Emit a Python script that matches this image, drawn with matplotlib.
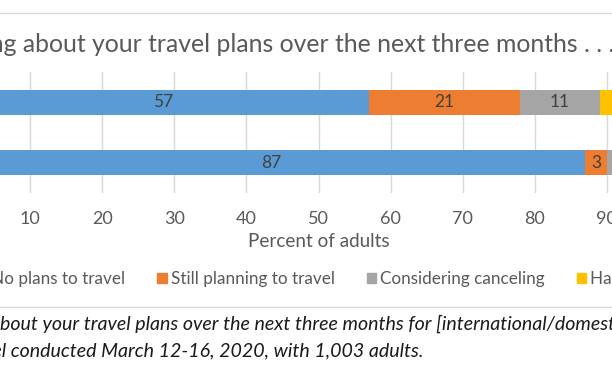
import matplotlib
matplotlib.use("Agg")
import matplotlib.pyplot as plt
from matplotlib.patches import Patch

plt.rcParams['font.family'] = ['Lato', 'DejaVu Sans']

# data (top bar first)
categories = ["Domestic travel", "International travel"]
series = ["No plans to travel", "Still planning to travel",
          "Considering canceling", "Have canceled"]
values = {
    "No plans to travel": [57, 87],
    "Still planning to travel": [21, 3],
    "Considering canceling": [11, 3],
    "Have canceled": [11, 7],
}
colors = ["#5B9BD5", "#ED7D31", "#A5A5A5", "#FFC000"]
xticks = [0, 10, 20, 30, 40, 50, 60, 70, 80, 90, 100]

W, H = 612, 374
fig = plt.figure(figsize=(W / 100, H / 100), dpi=100)
fig.patch.set_facecolor("white")


def px(x0, y0, x1, y1):
    # pixel box -> figure fraction [left, bottom, width, height]
    return [x0 / W, 1 - y1 / H, (x1 - x0) / W, (y1 - y0) / H]


ax = fig.add_axes(px(-42, 72, 679, 193))
ypos = list(range(len(categories)))
left = [0] * len(categories)
for name, col in zip(series, colors):
    vals = values[name]
    bars = ax.barh(ypos, vals, left=left, height=0.41, color=col, label=name, zorder=2)
    labels = [str(v) if v >= 3 else "" for v in vals]
    ax.bar_label(bars, labels=labels, label_type="center", color="#404040", fontsize=12.5)
    left = [a + b for a, b in zip(left, vals)]

ax.set_xlim(0, 100)
ax.set_ylim(len(categories) - 0.5, -0.5)
ax.set_yticks(ypos, categories)
ax.set_xticks(xticks)
ax.grid(axis="x", color="#D9D9D9", linewidth=1, zorder=0)
for s in ax.spines.values():
    s.set_visible(False)
ax.tick_params(axis="both", length=0, colors="#595959", labelsize=13)
ax.tick_params(axis="x", pad=13)
ax.set_xlabel("Percent of adults", fontsize=13.6, color="#595959", labelpad=4)

# separator lines
fig.add_artist(plt.Line2D([0, 1], [1 - 12.5 / H] * 2, color="#D9D9D9", lw=1))
fig.add_artist(plt.Line2D([0, 1], [1 - 307 / H] * 2, color="#D9D9D9", lw=1))

fig.canvas.draw()
rend = fig.canvas.get_renderer()


def place(prefix, text, x_px, y_px, **kw):
    # put text so that the part after prefix starts at x_px
    t = fig.text(0, 0, prefix, **kw)
    w = t.get_window_extent(rend).width
    t.remove()
    fig.text((x_px - w) / W, 1 - y_px / H, prefix + text, va="center", ha="left", **kw)


place("Thinking ", "about your travel plans over the next three months . . .", 23, 45,
      fontsize=17.8, color="#595959")

leg = fig.legend(handles=[Patch(color=c, label=s) for s, c in zip(series, colors)],
                 loc="center left", bbox_to_anchor=(-31 / W, 1 - 279 / H), ncol=4,
                 frameon=False, fontsize=12.35, handlelength=0.57, handleheight=0.57,
                 handletextpad=0.23, columnspacing=1.85, borderpad=0,
                 labelcolor="#595959")

place("Question: Thinking a", "bout your travel plans over the next three months for "
      "[international/domestic] travel, are you ...", 0, 324,
      fontsize=14.1, style="italic", color="#1A1A1A")
place("Source: Ipsos KnowledgePane", "l conducted March 12-16, 2020, with 1,003 adults.", 2, 351,
      fontsize=14.1, style="italic", color="#1A1A1A")

fig.savefig("out.png", dpi=100)
